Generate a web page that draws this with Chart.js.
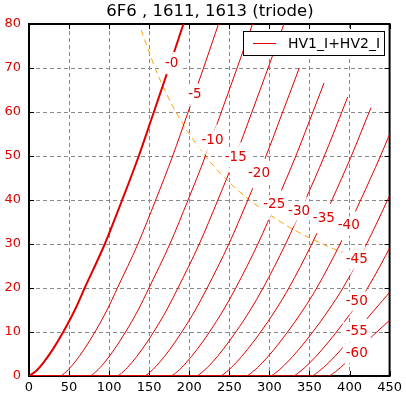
<!DOCTYPE html>
<html>
<head>
<meta charset="utf-8">
<script src="https://cdn.jsdelivr.net/npm/chart.js@4.4.0/dist/chart.umd.min.js"></script>
<style>
  html, body { margin: 0; padding: 0; background: #fff; }
  canvas { display: block; }
</style>
</head>
<body>
<canvas id="triodeChart" width="406" height="399"></canvas>
<script>
// 6F6 triode plate curves, [plate volts, plate mA]
const g0  = [[0,0],[8,1],[17.8,3],[29.5,6],[42.7,10],[57.2,15],[69.5,20],[94.6,30],[116.3,40],[137,50],[155.8,60],[174.5,70],[192.7,80],[202,85]];
const g5  = [[0,0],[38.4,0],[46.5,1],[56.6,3],[68.6,6],[82.3,10],[97.4,15],[110.3,20],[135.9,30],[158.1,40],[179.3,50],[198.6,60],[217.8,70],[236.5,80],[246,85]];
const g10 = [[0,0],[75.4,0],[83.6,1],[93.9,3],[106.3,6],[120.5,10],[136.2,15],[149.7,20],[175.8,30],[198.5,40],[220.2,50],[240,60],[259.7,70],[278.9,80],[288,85]];
const g15 = [[0,0],[109.2,0],[117.6,1],[128.1,3],[140.9,6],[155.5,10],[171.8,15],[185.9,20],[212.5,30],[235.7,40],[257.9,50],[278.2,60],[298.4,70],[318.1,80],[328,85]];
const g20 = [[0,0],[143.2,0],[151.7,1],[162.4,3],[175.6,6],[190.7,10],[207.6,15],[222.3,20],[249.4,30],[273.1,40],[295.8,50],[316.6,60],[337.3,70]];
const g25 = [[0,0],[176.5,0],[185.1,1],[196.1,3],[209.6,6],[225.2,10],[242.7,15],[258,20],[285.6,30],[309.8,40],[333,50],[354.3,60],[368.2,66.6]];
const g30 = [[0,0],[208.2,0],[216.9,1],[228.2,3],[242,6],[258.1,10],[276.2,15],[292.1,20],[320.2,30],[344.9,40],[368.6,50],[390.4,60],[397.7,63.4]];
const g35 = [[0,0],[238,0],[246.8,1],[258.3,3],[272.5,6],[289.1,10],[307.8,15],[324.3,20],[352.9,30],[378.1,40],[402.3,50],[424.6,60],[426.9,61]];
const g40 = [[0,0],[270.4,0],[279.4,1],[291.1,3],[305.7,6],[322.7,10],[342,15],[359.1,20],[388.2,30],[413.9,40],[438.6,50],[461.4,60]];
const g45 = [[0,0],[300.6,0],[309.7,1],[321.6,3],[336.6,6],[354.1,10],[374,15],[391.7,20],[421.3,30],[447.5,40],[472.7,50]];
const g50 = [[0,0],[329,0],[338.2,1],[350.4,3],[365.7,6],[383.7,10],[404.2,15],[422.5,20],[452.6,30],[479.3,40]];
const g55 = [[0,0],[352,0],[361.3,1],[373.8,3],[389.4,6],[407.9,10],[431,15],[452,19.5],[480,27]];
const g60 = [[0,0],[373.2,0],[382.6,1],[395.3,3],[411.3,6],[431,9.5],[452,13],[475,17]];

const curves = [g0, g5, g10, g15, g20, g25, g30, g35, g40, g45, g50, g55, g60];
const gridLabels = ["-0","-5","-10","-15","-20","-25","-30","-35","-40","-45","-50","-55","-60"];
// where each grid label sits on its curve [V, mA]
const labelAt = [[178,71],[207,63.9],[229,53.6],[258,49.6],[287,46],[306,38.9],[337,37.5],[368,35.8],[399,34.1],[409,26.4],[409,17],[409,10.1],[409,5.2]];

// max dissipation line
const pdV = [140, 160, 180, 200, 225, 250, 275, 300, 325, 350, 375, 400, 425];
const pdI = [78.6, 68.8, 61.1, 55, 48.9, 44, 40, 36.7, 33.8, 31.4, 29.3, 27.5, 25.9];

const xTicks = [0, 50, 100, 150, 200, 250, 300, 350, 400, 450];
const yTicks = [0, 10, 20, 30, 40, 50, 60, 70, 80];

const RED = "#e00000";
const FONT = "DejaVu Sans";

let datasets = curves.map((pts, i) => ({
  label: "HV1_I+HV2_I",
  data: pts.map(p => ({ x: p[0], y: p[1] })),
  showLine: true,
  borderColor: RED,
  borderWidth: i === 0 ? 2 : 1,
  pointRadius: 0,
  cubicInterpolationMode: "monotone"
}));

datasets.push({
  label: "Pd",
  data: pdV.map((v, i) => ({ x: v, y: pdI[i] })),
  showLine: true,
  borderColor: "#ffa500",
  borderWidth: 1,
  borderDash: [6, 4],
  pointRadius: 0,
  tension: 0.3
});

const decorations = {
  id: "decorations",
  beforeDatasetsDraw(chart) {
    const { ctx, chartArea: a, scales } = chart;
    ctx.save();
    // spines
    ctx.strokeStyle = "#000";
    ctx.lineWidth = 2;
    ctx.strokeRect(a.left, a.top, a.right - a.left, a.bottom - a.top);
    // inward ticks on all sides
    ctx.lineWidth = 1;
    xTicks.forEach(t => {
      const x = Math.round(scales.x.getPixelForValue(t)) + 0.5;
      ctx.beginPath();
      ctx.moveTo(x, a.bottom); ctx.lineTo(x, a.bottom - 5);
      ctx.moveTo(x, a.top); ctx.lineTo(x, a.top + 5);
      ctx.stroke();
    });
    yTicks.forEach(t => {
      const y = Math.round(scales.y.getPixelForValue(t)) + 0.5;
      ctx.beginPath();
      ctx.moveTo(a.left, y); ctx.lineTo(a.left + 5, y);
      ctx.moveTo(a.right, y); ctx.lineTo(a.right - 5, y);
      ctx.stroke();
    });
    ctx.restore();
  },
  afterDatasetsDraw(chart) {
    const { ctx, scales } = chart;
    const px = p => [scales.x.getPixelForValue(p[0]), scales.y.getPixelForValue(p[1])];
    ctx.save();
    // inline grid voltage labels: break the curve, then write the label
    ctx.font = "13.5px " + FONT;
    ctx.textAlign = "center";
    ctx.textBaseline = "middle";
    labelAt.forEach((p, i) => {
      const [x, y] = px(p);
      const tw = ctx.measureText(gridLabels[i]).width;
      const pts = curves[i];
      let k = pts.findIndex((q, j) => j > 0 && q[1] >= p[1] && pts[j - 1][1] < p[1]);
      if (k < 1) k = pts.length - 1;
      const [x1, y1] = px(pts[k - 1]);
      const [x2, y2] = px(pts[k]);
      const len = Math.hypot(x2 - x1, y2 - y1);
      const dx = (x2 - x1) / len, dy = (y2 - y1) / len;
      const half = (tw + 10) / 2;
      ctx.strokeStyle = "#fff";
      ctx.lineWidth = i === 0 ? 4 : 3;
      ctx.beginPath();
      ctx.moveTo(x - dx * half, y - dy * half);
      ctx.lineTo(x + dx * half, y + dy * half);
      ctx.stroke();
      ctx.fillStyle = "#fff";
      ctx.fillRect(x - tw / 2 - 3, y - 9.5, tw + 6, 19);
      ctx.fillStyle = RED;
      ctx.fillText(gridLabels[i], x, y);
    });

    // legend
    ctx.fillStyle = "#fff";
    ctx.fillRect(243.5, 31.5, 141, 24);
    ctx.strokeStyle = "#000";
    ctx.lineWidth = 1;
    ctx.strokeRect(243.5, 31.5, 141, 24);
    ctx.strokeStyle = RED;
    ctx.beginPath();
    ctx.moveTo(253, 43.5); ctx.lineTo(276, 43.5);
    ctx.stroke();
    ctx.fillStyle = "#000";
    ctx.font = "14px " + FONT;
    ctx.textAlign = "left";
    ctx.fillText("HV1_I+HV2_I", 288, 44);

    // title
    ctx.font = "16.5px " + FONT;
    ctx.textAlign = "center";
    ctx.fillText("6F6 , 1611, 1613 (triode)", 210, 12);
    ctx.restore();
  }
};

new Chart(document.getElementById("triodeChart"), {
  type: "scatter",
  data: { datasets: datasets },
  plugins: [decorations],
  options: {
    responsive: false,
    animation: false,
    devicePixelRatio: 1,
    layout: { padding: { left: 0, right: 15, top: 24, bottom: 0 } },
    plugins: {
      legend: { display: false },
      tooltip: { enabled: false },
      title: { display: false }
    },
    scales: {
      x: {
        type: "linear",
        min: 0,
        max: 450,
        afterBuildTicks: s => { s.ticks = xTicks.map(v => ({ value: v })); },
        ticks: { color: "#000", font: { family: FONT, size: 13 }, padding: 4, maxRotation: 0 },
        grid: { color: "#8a8a8a", lineWidth: 1, drawTicks: false },
        border: { display: false, dash: [4, 3] },
        afterFit: s => { s.height = 23; }
      },
      y: {
        min: 0,
        max: 80,
        afterBuildTicks: s => { s.ticks = yTicks.map(v => ({ value: v })); },
        ticks: { color: RED, font: { family: FONT, size: 13 }, padding: 8 },
        grid: { color: "#8a8a8a", lineWidth: 1, drawTicks: false },
        border: { display: false, dash: [4, 3] },
        afterFit: s => { s.width = 29; }
      }
    }
  }
});
</script>
</body>
</html>
